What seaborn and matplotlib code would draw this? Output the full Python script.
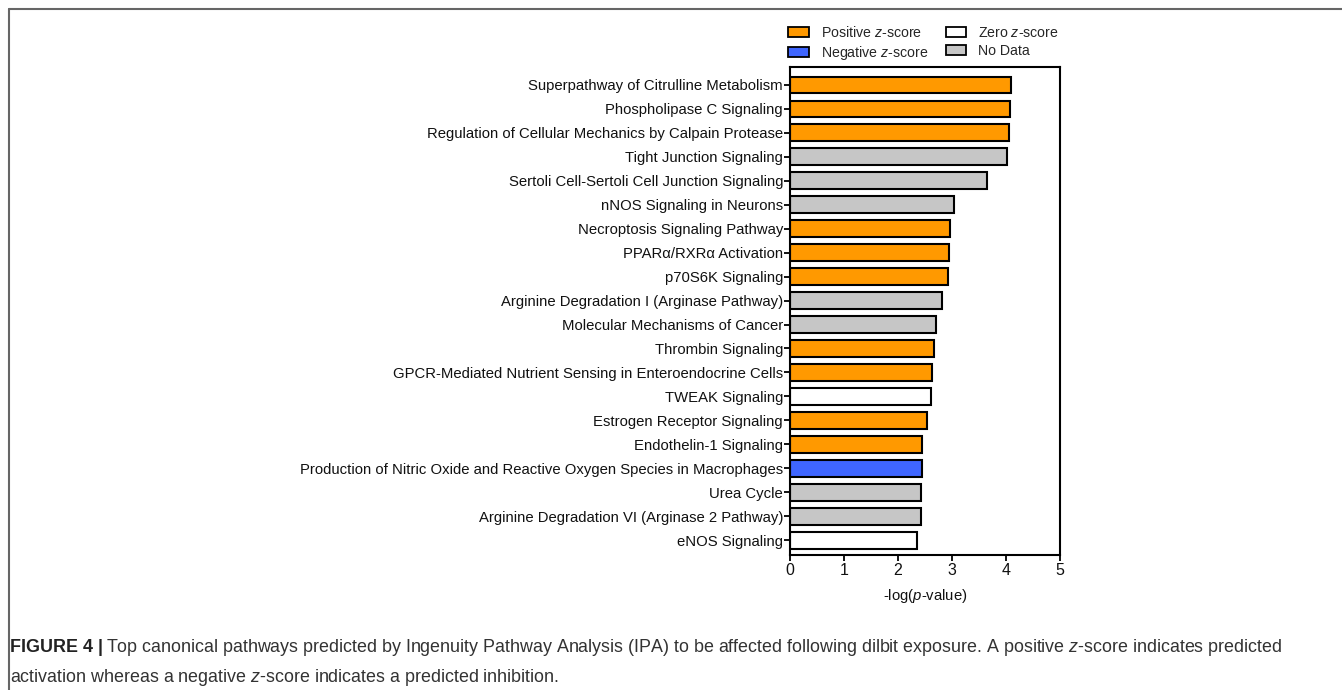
import matplotlib
matplotlib.use("Agg")
import matplotlib.pyplot as plt
from matplotlib.patches import Patch
from matplotlib.lines import Line2D
import seaborn as sns
import pandas as pd

pathways = [
    "Superpathway of Citrulline Metabolism",
    "Phospholipase C Signaling",
    "Regulation of Cellular Mechanics by Calpain Protease",
    "Tight Junction Signaling",
    "Sertoli Cell-Sertoli Cell Junction Signaling",
    "nNOS Signaling in Neurons",
    "Necroptosis Signaling Pathway",
    "PPARα/RXRα Activation",
    "p70S6K Signaling",
    "Arginine Degradation I (Arginase Pathway)",
    "Molecular Mechanisms of Cancer",
    "Thrombin Signaling",
    "GPCR-Mediated Nutrient Sensing in Enteroendocrine Cells",
    "TWEAK Signaling",
    "Estrogen Receptor Signaling",
    "Endothelin-1 Signaling",
    "Production of Nitric Oxide and Reactive Oxygen Species in Macrophages",
    "Urea Cycle",
    "Arginine Degradation VI (Arginase 2 Pathway)",
    "eNOS Signaling",
]
neg_log_p = [4.09, 4.07, 4.05, 4.02, 3.65, 3.03, 2.97, 2.95, 2.92, 2.82,
             2.71, 2.66, 2.63, 2.62, 2.54, 2.44, 2.44, 2.42, 2.42, 2.36]
zscore = ["Positive", "Positive", "Positive", "No Data", "No Data", "No Data",
          "Positive", "Positive", "Positive", "No Data", "No Data", "Positive",
          "Positive", "Zero", "Positive", "Positive", "Negative", "No Data",
          "No Data", "Zero"]

colors = {"Positive": "#FF9900", "Negative": "#3F66FF",
          "Zero": "#FFFFFF", "No Data": "#C6C6C6"}

df = pd.DataFrame({"pathway": pathways, "value": neg_log_p, "z": zscore})

sns.set_style("white")
plt.rcParams["font.family"] = ["Liberation Sans", "DejaVu Sans"]
plt.rcParams["mathtext.fontset"] = "custom"
plt.rcParams["mathtext.it"] = "Liberation Sans:italic"
plt.rcParams["mathtext.rm"] = "Liberation Sans"

fig = plt.figure(figsize=(13.42, 6.9), dpi=100)
ax = fig.add_axes([790 / 1342, 1 - 555 / 690, 270 / 1342, 488 / 690])

sns.barplot(data=df, x="value", y="pathway", hue="z", palette=colors,
            dodge=False, orient="h", width=0.7, edgecolor="black",
            linewidth=1.5, saturation=1, legend=False, ax=ax)

ax.set_xlim(0, 5)
ax.set_ylim(19.62, -0.75)
ax.set_xticks(range(6))
ax.set_ylabel("")
ax.set_xlabel("-log($p$-value)", fontsize=10.7, color="#111111", labelpad=6)
for s in ax.spines.values():
    s.set_visible(True)
    s.set_linewidth(1.5)
    s.set_color("black")
ax.tick_params(axis="both", which="both", direction="out", width=1.3,
               length=4, color="black", labelsize=10.7, labelcolor="#111111",
               left=True, bottom=True)
ax.tick_params(axis="y", pad=1)
ax.tick_params(axis="x", pad=2, labelsize=11.5)

handles = [Patch(facecolor=colors[k], edgecolor="black", linewidth=1.3)
           for k in ["Positive", "Negative", "Zero", "No Data"]]
labels = ["Positive $z$-score", "Negative $z$-score",
          "Zero $z$-score", "No Data"]
fig.legend(handles, labels, ncol=2, loc="upper left",
           bbox_to_anchor=(788 / 1342, 1 - 25 / 690), frameon=False,
           fontsize=10.2, handlelength=1.45, handleheight=0.7,
           handletextpad=0.85, columnspacing=1.25, labelspacing=0.25,
           borderpad=0, borderaxespad=0)

# figure frame (top and left edges)
fc = "#666666"
fig.add_artist(Line2D([9 / 1342, 1], [1 - 9 / 690, 1 - 9 / 690],
                      transform=fig.transFigure, color=fc, lw=1.5))
fig.add_artist(Line2D([9 / 1342, 9 / 1342], [0, 1 - 9 / 690],
                      transform=fig.transFigure, color=fc, lw=1.5))

# caption
cap_col = "#333333"
cap_fs = 12.9
renderer = fig.canvas.get_renderer()
x0 = 10 / 1342
y1 = 1 - 648 / 690
y2 = 1 - 677 / 690
t = fig.text(x0, y1, "FIGURE 4 |", fontsize=cap_fs, weight="bold",
             color="#222222", va="center")
bb = t.get_window_extent(renderer)
fig.text(bb.x1 / 1342 + 3 / 1342, y1,
         "Top canonical pathways predicted by Ingenuity Pathway Analysis (IPA) "
         "to be affected following dilbit exposure. A positive $z$-score "
         "indicates predicted",
         fontsize=cap_fs, color=cap_col, va="center")
fig.text(x0, y2,
         "activation whereas a negative $z$-score indicates a predicted inhibition.",
         fontsize=cap_fs, color=cap_col, va="center")

fig.savefig("out.png", dpi=100)
